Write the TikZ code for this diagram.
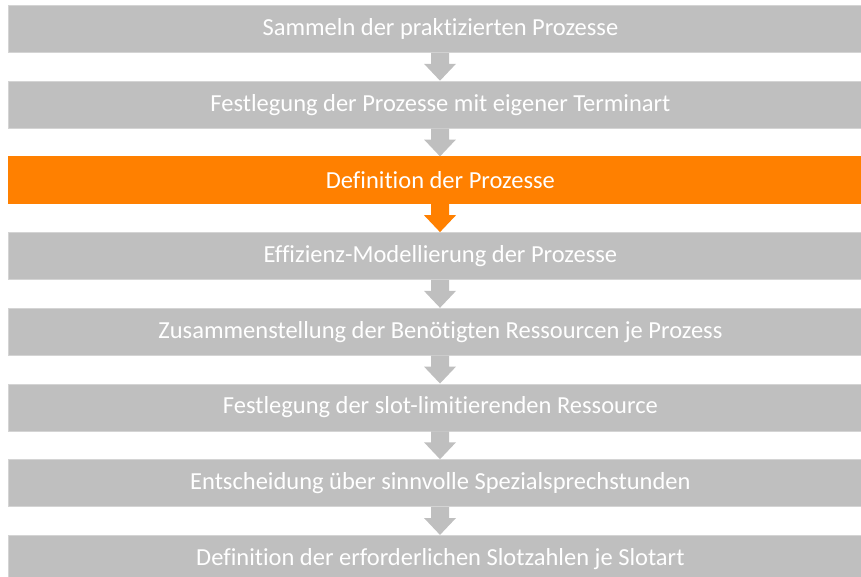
\documentclass[tikz,border=0pt]{standalone}
\usepackage{fontspec}
\setmainfont[Ligatures=NoCommon]{Carlito}
\usetikzlibrary{calc}
\definecolor{barGray}{HTML}{BFBFBF}
\definecolor{barEdge}{HTML}{D4D4D4}
\definecolor{barOrange}{HTML}{FF8000}
\tikzset{
  stepbar/.style={fill=barGray, draw=barEdge, line width=0.8pt,
    minimum width=864pt, minimum height=47pt, inner sep=0pt,
    text=white, font=\fontsize{24.5}{29}\selectfont, anchor=north west},
  hotbar/.style={stepbar, fill=barOrange, draw=barOrange},
}
% block arrow from the bottom of one bar to the top of the next, at x = 440
\newcommand{\blockarrow}[3]{%
  \fill[#3] ($(#1.south -| 431,0)$) -- ($(#1.south -| 449,0)$)
    -- ($(#1.south -| 449,0)+(0,-11)$) -- ($(#1.south -| 456,0)+(0,-11)$)
    -- ($(#2.north -| 440,0)$)
    -- ($(#1.south -| 424,0)+(0,-11)$) -- ($(#1.south -| 431,0)+(0,-11)$) -- cycle;}
\begin{document}
\begin{tikzpicture}[x=1pt,y=1pt]
\useasboundingbox (0,0) rectangle (861,-576);
\clip (0,0) rectangle (861,-576);
\node[stepbar] (b1) at (8,-5)     {Sammeln der praktizierten Prozesse};
\node[stepbar] (b2) at (8,-80.7)  {Festlegung der Prozesse mit eigener Terminart};
\node[hotbar]  (b3) at (8,-156.4) {Definition der Prozesse};
\node[stepbar] (b4) at (8,-232.1) {Effizienz-Modellierung der Prozesse};
\node[stepbar] (b5) at (8,-307.8) {Zusammenstellung der Benötigten Ressourcen je Prozess};
\node[stepbar] (b6) at (8,-383.5) {Festlegung der slot-limitierenden Ressource};
\node[stepbar] (b7) at (8,-459.2) {Entscheidung über sinnvolle Spezialsprechstunden};
\node[stepbar] (b8) at (8,-534.9) {Definition der erforderlichen Slotzahlen je Slotart};
\blockarrow{b1}{b2}{barGray}
\blockarrow{b2}{b3}{barGray}
\blockarrow{b3}{b4}{barOrange}
\blockarrow{b4}{b5}{barGray}
\blockarrow{b5}{b6}{barGray}
\blockarrow{b6}{b7}{barGray}
\blockarrow{b7}{b8}{barGray}
\end{tikzpicture}
\end{document}
